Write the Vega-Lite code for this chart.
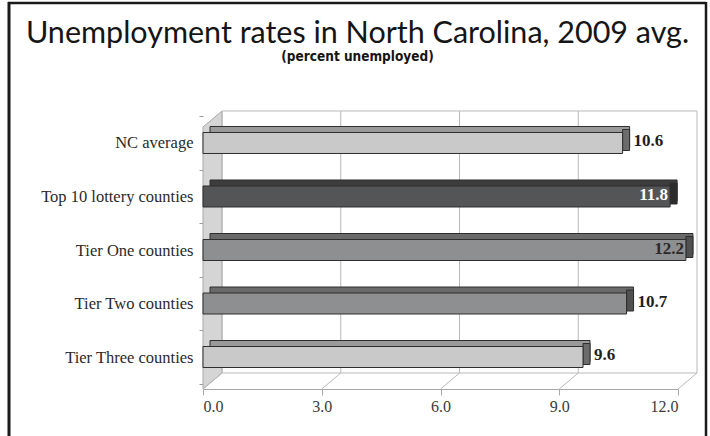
{
  "$schema": "https://vega.github.io/schema/vega-lite/v6.json",
  "width": 475,
  "height": 278,
  "autosize": {"type": "none"},
  "padding": {"left": 203, "top": 111, "right": 32, "bottom": 47},
  "background": "white",
  "config": {"view": {"stroke": null}},
  "title": {
    "text": "Unemployment rates in North Carolina, 2009 avg.",
    "subtitle": "(percent unemployed)",
    "anchor": "middle",
    "dx": -83,
    "offset": -63,
    "font": "Lato",
    "fontSize": 30.5,
    "fontWeight": "normal",
    "color": "#151515",
    "subtitleFont": "DejaVu Sans Condensed",
    "subtitleFontSize": 13.5,
    "subtitleFontWeight": "bold",
    "subtitleColor": "#151515",
    "subtitlePadding": 0
  },
  "datasets": {
    "rates": [
      {"category": "NC average", "value": 10.6},
      {"category": "Top 10 lottery counties", "value": 11.8},
      {"category": "Tier One counties", "value": 12.2},
      {"category": "Tier Two counties", "value": 10.7},
      {"category": "Tier Three counties", "value": 9.6}
    ],
    "ticks": [{"v": 0}, {"v": 3}, {"v": 6}, {"v": 9}, {"v": 12}]
  },
  "resolve": {"scale": {"color": "independent"}},
  "layer": [
    {
      "data": {"values": [{"part": "frame"}]},
      "mark": {"type": "rule", "color": "#1a1a1a", "strokeWidth": 2.5, "xOffset": -195, "x2Offset": 28, "yOffset": -140},
      "encoding": {
        "x": {"datum": 0, "type": "quantitative"},
        "x2": {"datum": 12},
        "y": {"datum": "NC average", "type": "nominal"}
      }
    },
    {
      "data": {"values": [{"part": "frame"}]},
      "mark": {"type": "rule", "color": "#1a1a1a", "strokeWidth": 3, "xOffset": -194, "yOffset": -141, "y2Offset": 100},
      "encoding": {
        "x": {"datum": 0, "type": "quantitative"},
        "y": {"datum": "NC average", "type": "nominal"},
        "y2": {"datum": "Tier Three counties"}
      }
    },
    {
      "data": {"values": [{"part": "frame"}]},
      "mark": {"type": "rule", "color": "#1a1a1a", "strokeWidth": 2.5, "xOffset": 28, "yOffset": -141, "y2Offset": 100},
      "encoding": {
        "x": {"datum": 12, "type": "quantitative"},
        "y": {"datum": "NC average", "type": "nominal"},
        "y2": {"datum": "Tier Three counties"}
      }
    },
    {
      "data": {"values": [{"part": "wall"}]},
      "mark": {
        "type": "point",
        "shape": "M0,-0.885 L0.137,-1 L0.137,0.885 L0,1 Z",
        "size": 77284,
        "filled": true,
        "fill": "#d5d5d5",
        "stroke": "#a9a9a9",
        "strokeWidth": 1,
        "opacity": 1
      },
      "encoding": {
        "x": {"datum": 0, "type": "quantitative"},
        "y": {"datum": "Tier One counties", "type": "nominal"}
      }
    },
    {
      "data": {"name": "ticks"},
      "mark": {"type": "rule", "color": "#b9b9b9", "strokeWidth": 1, "xOffset": 19, "yOffset": -32, "y2Offset": 16},
      "encoding": {
        "x": {"field": "v", "type": "quantitative"},
        "y": {"datum": "NC average", "type": "nominal"},
        "y2": {"datum": "Tier Three counties"}
      }
    },
    {
      "data": {"name": "ticks"},
      "mark": {"type": "rule", "color": "#b9b9b9", "strokeWidth": 1, "xOffset": 0, "x2Offset": 19, "yOffset": 32, "y2Offset": 16},
      "encoding": {
        "x": {"field": "v", "type": "quantitative"},
        "x2": {"field": "v"},
        "y": {"datum": "Tier Three counties", "type": "nominal"},
        "y2": {"datum": "Tier Three counties"}
      }
    },
    {
      "data": {"values": [{"part": "backtop"}]},
      "mark": {"type": "rule", "color": "#b9b9b9", "strokeWidth": 1, "xOffset": 19, "x2Offset": 19, "yOffset": -32},
      "encoding": {
        "x": {"datum": 0, "type": "quantitative"},
        "x2": {"datum": 12},
        "y": {"datum": "NC average", "type": "nominal"}
      }
    },
    {
      "data": {"values": [{"part": "backfloor"}]},
      "mark": {"type": "rule", "color": "#b9b9b9", "strokeWidth": 1, "xOffset": 19, "x2Offset": 19, "yOffset": 16},
      "encoding": {
        "x": {"datum": 0, "type": "quantitative"},
        "x2": {"datum": 12},
        "y": {"datum": "Tier Three counties", "type": "nominal"}
      }
    },
    {
      "data": {"name": "rates"},
      "mark": {"type": "bar", "size": 21, "yOffset": -6, "xOffset": 7, "x2Offset": 12, "stroke": "#2e2e2e", "strokeWidth": 1},
      "encoding": {
        "y": {
          "field": "category", "type": "nominal", "sort": null,
          "scale": {
            "type": "band", "paddingInner": 0, "paddingOuter": 0.098,
            "domain": ["NC average", "Top 10 lottery counties", "Tier One counties", "Tier Two counties", "Tier Three counties"]
          },
          "axis": {
            "title": null, "domain": false, "ticks": true, "tickSize": 4, "tickColor": "#9a9a9a",
            "tickBand": "extent", "labelFont": "Liberation Serif", "labelFontSize": 16.5,
            "labelColor": "#2a2a2a", "labelPadding": 6
          }
        },
        "x": {
          "field": "value", "type": "quantitative",
          "scale": {"domain": [0, 12], "nice": false, "zero": true},
          "axis": {
            "title": null, "values": [0, 3, 6, 9, 12], "format": ".1f", "grid": false,
            "domainColor": "#a8a8a8", "tickColor": "#a8a8a8", "tickSize": 6,
            "labelFont": "Liberation Serif", "labelFontSize": 16, "labelColor": "#3a3a3a", "labelPadding": 3
          }
        },
        "color": {
          "field": "category", "type": "nominal", "legend": null,
          "scale": {
            "domain": ["NC average", "Top 10 lottery counties", "Tier One counties", "Tier Two counties", "Tier Three counties"],
            "range": ["#9a9a9a", "#3c3c3c", "#6a6a6a", "#6a6a6a", "#9a9a9a"]
          }
        }
      }
    },
    {
      "data": {"name": "rates"},
      "mark": {"type": "bar", "size": 21, "yOffset": -3, "xOffset": 7, "stroke": "#2e2e2e", "strokeWidth": 1},
      "encoding": {
        "y": {"field": "category", "type": "nominal", "sort": null},
        "x": {"field": "value", "type": "quantitative"},
        "x2": {"field": "value"},
        "color": {
          "field": "category", "type": "nominal", "legend": null,
          "scale": {
            "domain": ["NC average", "Top 10 lottery counties", "Tier One counties", "Tier Two counties", "Tier Three counties"],
            "range": ["#6c6c6c", "#2c2c2c", "#505050", "#505050", "#6c6c6c"]
          }
        }
      }
    },
    {
      "data": {"name": "rates"},
      "mark": {"type": "bar", "size": 21, "x2Offset": 6, "stroke": "#2e2e2e", "strokeWidth": 1},
      "encoding": {
        "y": {"field": "category", "type": "nominal", "sort": null},
        "x": {"field": "value", "type": "quantitative"},
        "color": {
          "field": "category", "type": "nominal", "legend": null,
          "scale": {
            "domain": ["NC average", "Top 10 lottery counties", "Tier One counties", "Tier Two counties", "Tier Three counties"],
            "range": ["#c9c9ca", "#545556", "#8e8f91", "#8e8f91", "#c9c9ca"]
          }
        }
      }
    },
    {
      "data": {"name": "rates"},
      "transform": [{"filter": "datum.value < 11.5"}],
      "mark": {"type": "text", "align": "left", "baseline": "middle", "dx": 11, "dy": -2, "font": "Liberation Serif", "fontWeight": "bold", "fontSize": 17, "color": "#1e1e1e"},
      "encoding": {
        "y": {"field": "category", "type": "nominal", "sort": null},
        "x": {"field": "value", "type": "quantitative"},
        "text": {"field": "value", "type": "quantitative", "format": ".1f"}
      }
    },
    {
      "data": {"name": "rates"},
      "transform": [{"filter": "datum.value >= 11.5"}],
      "mark": {"type": "text", "align": "right", "baseline": "middle", "dx": -2, "dy": -1, "font": "Liberation Serif", "fontWeight": "bold", "fontSize": 17},
      "encoding": {
        "y": {"field": "category", "type": "nominal", "sort": null},
        "x": {"field": "value", "type": "quantitative"},
        "text": {"field": "value", "type": "quantitative", "format": ".1f"},
        "color": {
          "condition": {"test": "datum.category === 'Top 10 lottery counties'", "value": "#ffffff"},
          "value": "#2a2a2a"
        }
      }
    }
  ]
}
